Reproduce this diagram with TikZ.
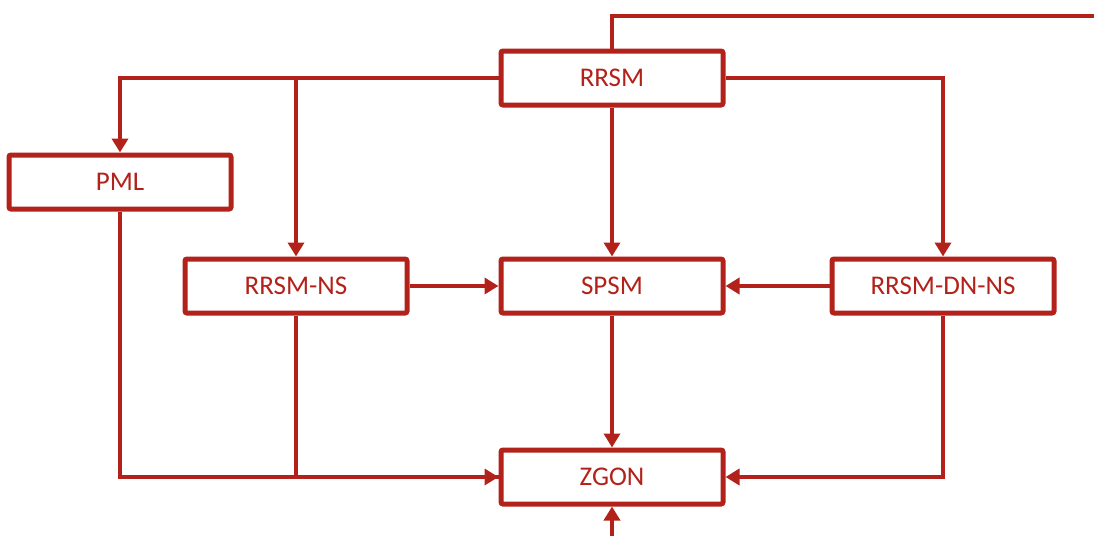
\documentclass[tikz,border=0pt]{standalone}
\usepackage{fontspec}
\setmainfont{Carlito}
\usetikzlibrary{arrows.meta}
\definecolor{brick}{RGB}{178,34,26}
\begin{document}
\begin{tikzpicture}[x=0.5pt, y=-0.5pt, >={Triangle[width=8pt,length=7pt]}]
    \tikzset{
      blk/.style={draw=brick, line width=2.5pt, rounded corners=1pt, fill=white,
                  minimum width=111pt, minimum height=27pt, inner sep=2pt,
                  text=brick, font=\fontsize{13.5}{16}\selectfont},
      ln/.style={draw=brick, line width=2.4pt},
    }
    \useasboundingbox (0,0) rectangle (1094,536);

    \node[blk] (rrsm)   at (612,78)  {RRSM};
    \node[blk] (pml)    at (120,182) {PML};
    \node[blk] (rrsmns) at (296,286) {RRSM-NS};
    \node[blk] (spsm)   at (612,286) {SPSM};
    \node[blk] (rrsmdn) at (943,286) {RRSM-DN-NS};
    \node[blk] (zgon)   at (612,477) {ZGON};

    \coordinate (tout) at (1094,16);
    \coordinate (zin)  at (612,536);

    \draw[ln] (rrsm.north) |- (tout);
    \draw[ln, ->] (rrsm.west) -| (pml.north);
    \draw[ln, ->] (rrsm.west) -| (rrsmns.north);
    \draw[ln, ->] (rrsm.south) -- (spsm.north);
    \draw[ln, ->] (rrsm.east) -| (rrsmdn.north);

    \draw[ln, ->] (rrsmns.east) -- (spsm.west);
    \draw[ln, ->] (rrsmdn.west) -- (spsm.east);
    \draw[ln, ->] (spsm.south) -- (zgon.north);

    \draw[ln] (rrsmns.south) |- (zgon.west);
    \draw[ln, ->] (pml.south) |- (zgon.west);
    \draw[ln, ->] (rrsmdn.south) |- (zgon.east);
    \draw[ln, ->] (zin) -- (zgon.south);
\end{tikzpicture}
\end{document}
